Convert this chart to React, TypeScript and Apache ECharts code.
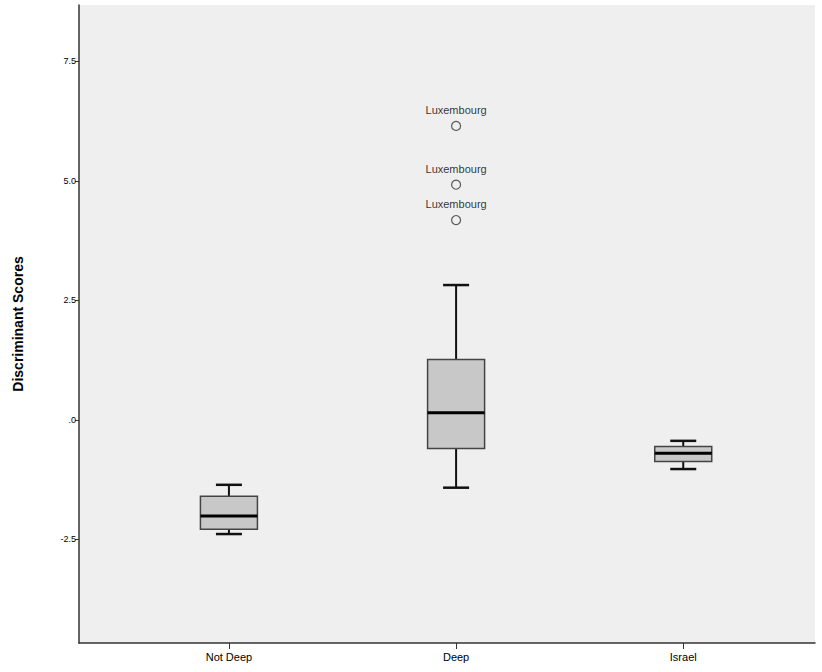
import React, { useEffect, useRef } from "react";
import * as echarts from "echarts";

const categories = ["Not Deep", "Deep", "Israel"];
// [min, q1, median, q3, max]
const boxes = [
  [-2.39, -2.29, -2.01, -1.6, -1.36],
  [-1.42, -0.6, 0.15, 1.26, 2.82],
  [-1.03, -0.87, -0.7, -0.56, -0.44],
];
const outliers = [
  [2, 6.15, "Luxembourg"],
  [2, 4.92, "Luxembourg"],
  [2, 4.18, "Luxembourg"],
];
const yTicks = [-2.5, 0, 2.5, 5, 7.5];

export default function App() {
  const ref = useRef<HTMLDivElement>(null);
  useEffect(() => {
    const chart = echarts.init(ref.current!, null, { renderer: "svg" });
    const font = "Liberation Sans, Arial, sans-serif";
    chart.setOption({
      animation: false,
      grid: { left: 79, right: 7, top: 5, bottom: 29, show: true, backgroundColor: "#efefef", borderWidth: 0 },
      xAxis: {
        type: "value", min: 0.34, max: 3.58,
        axisLine: { show: true, onZero: false, lineStyle: { color: "#333", width: 1.5 } },
        axisTick: { show: true, customValues: [1, 2, 3], length: 6, lineStyle: { color: "#333" } },
        axisLabel: { customValues: [1, 2, 3], formatter: (v: number) => categories[Math.round(v) - 1] ?? "", color: "#000", fontSize: 11, fontFamily: font, margin: 8 },
        splitLine: { show: false },
      },
      yAxis: {
        type: "value", min: -4.67, max: 8.68,
        name: "Discriminant Scores", nameLocation: "middle", nameGap: 54, nameRotate: 90,
        nameTextStyle: { fontSize: 14, fontWeight: "bold", fontFamily: font, color: "#000" },
        axisLine: { show: true, lineStyle: { color: "#333", width: 1.5 } },
        axisTick: { show: true, customValues: yTicks, length: 4, lineStyle: { color: "#333" } },
        axisLabel: { customValues: yTicks, formatter: (v: number) => (v === 0 ? ".0" : v.toFixed(1)), color: "#000", fontSize: 9, fontFamily: font, margin: 3 },
        splitLine: { show: false },
      },
      series: [
        {
          type: "custom",
          data: boxes.map((b, i) => [i + 1, ...b]),
          renderItem: (params: any, api: any) => {
            const x = api.value(0);
            const p = (y: number) => api.coord([x, y]);
            const cx = p(0)[0];
            const hw = 28.5, ww = 13;
            const yMin = p(api.value(1))[1], q1 = p(api.value(2))[1], med = p(api.value(3))[1], q3 = p(api.value(4))[1], yMax = p(api.value(5))[1];
            const ls = { stroke: "#111", lineWidth: 2 };
            return {
              type: "group",
              children: [
                { type: "line", shape: { x1: cx, y1: yMax, x2: cx, y2: q3 }, style: ls },
                { type: "line", shape: { x1: cx, y1: q1, x2: cx, y2: yMin }, style: ls },
                { type: "line", shape: { x1: cx - ww, y1: yMax, x2: cx + ww, y2: yMax }, style: { stroke: "#111", lineWidth: 2.5 } },
                { type: "line", shape: { x1: cx - ww, y1: yMin, x2: cx + ww, y2: yMin }, style: { stroke: "#111", lineWidth: 2.5 } },
                { type: "rect", shape: { x: cx - hw, y: q3, width: hw * 2, height: q1 - q3 }, style: { fill: "#c8c8c8", stroke: "#444", lineWidth: 1.5 } },
                { type: "line", shape: { x1: cx - hw, y1: med, x2: cx + hw, y2: med }, style: { stroke: "#000", lineWidth: 3 } },
              ],
            };
          },
        },
        {
          type: "scatter",
          data: outliers.map((o) => ({ value: [o[0], o[1]], label: { formatter: String(o[2]), color: "#000" } })),
          symbol: "circle", symbolSize: 9,
          itemStyle: { color: "#efefef", borderColor: "#333", borderWidth: 1.2 },
          label: { show: true, position: "top", distance: 5, color: "#000", fontSize: 11, fontFamily: font },
        },
      ],
    });
    return () => chart.dispose();
  }, []);
  return <div ref={ref} style={{ position: "fixed", left: 0, top: 0, width: 822, height: 672, background: "#fff" }} />;
}
